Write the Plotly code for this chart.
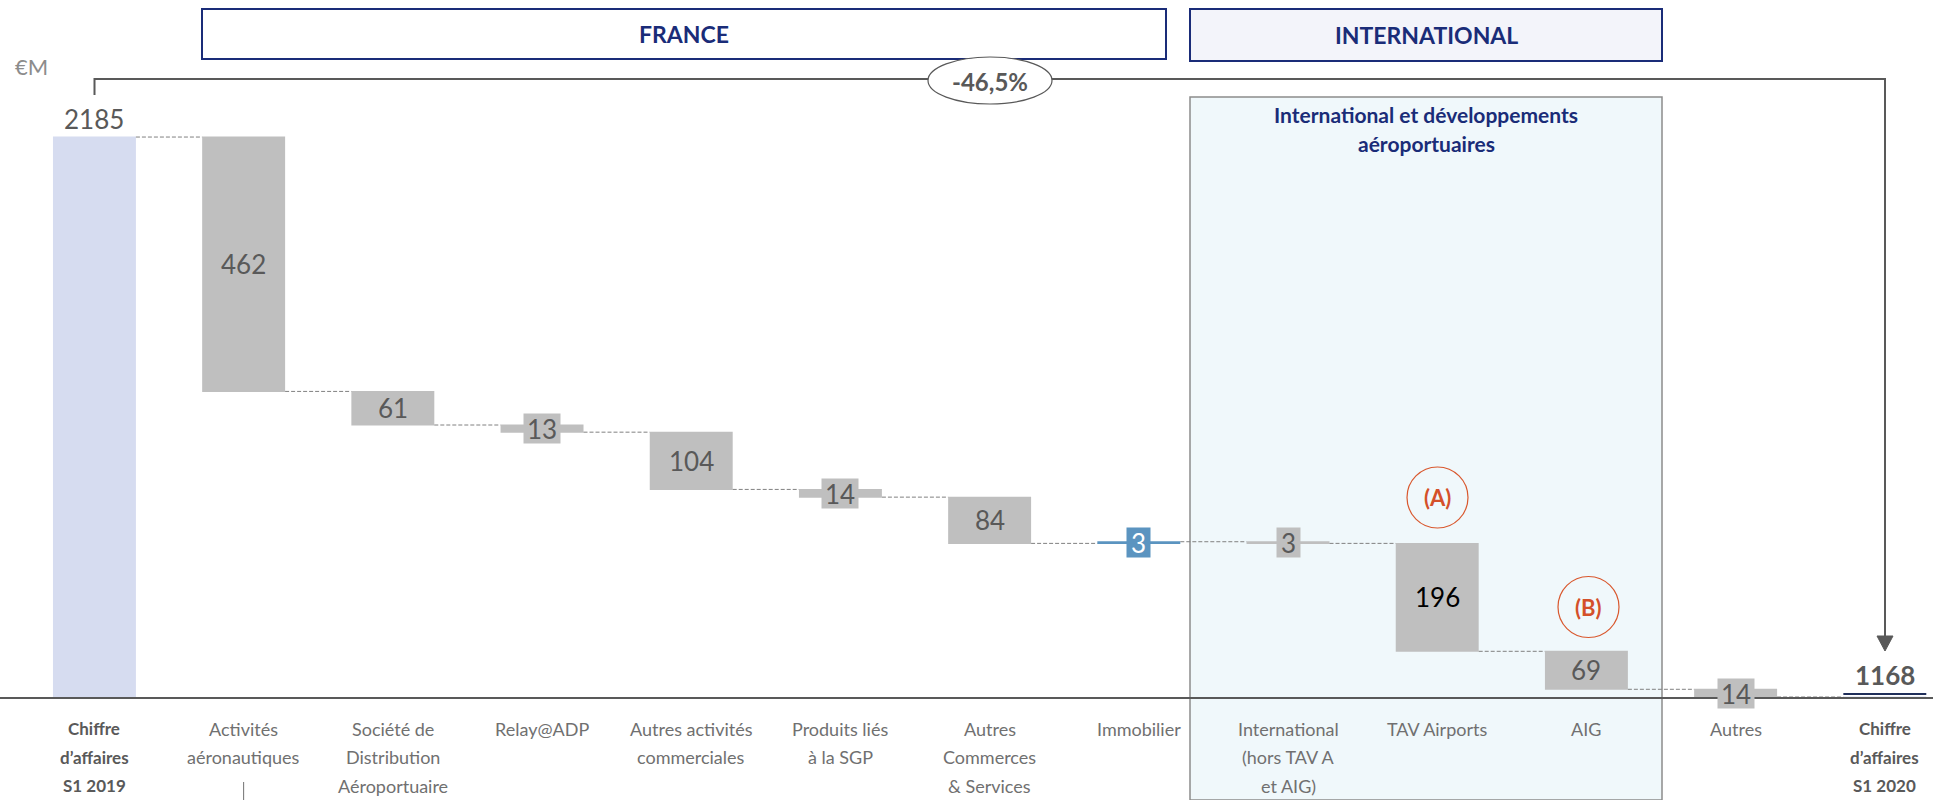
import plotly.graph_objects as go

# ---------------- data ----------------
categories = [
    "Chiffre d’affaires S1 2019", "Activités aéronautiques",
    "Société de Distribution Aéroportuaire", "Relay@ADP",
    "Autres activités commerciales", "Produits liés à la SGP",
    "Autres Commerces & Services", "Immobilier",
    "International (hors TAV A et AIG)", "TAV Airports", "AIG", "Autres",
    "Chiffre d’affaires S1 2020",
]
tick_lines = [
    ["Chiffre", "d’affaires", "S1 2019"],
    ["Activités", "aéronautiques"],
    ["Société de", "Distribution", "Aéroportuaire"],
    ["Relay@ADP"],
    ["Autres activités", "commerciales"],
    ["Produits liés", "à la SGP"],
    ["Autres", "Commerces", "& Services"],
    ["Immobilier"],
    ["International", "(hors TAV A", "et AIG)"],
    ["TAV Airports"],
    ["AIG"],
    ["Autres"],
    ["Chiffre", "d’affaires", "S1 2020"],
]
values = [2185, -462, -61, -13, -104, -14, -84, 3, -3, -196, -69, -14, 0]
measures = ["absolute"] + ["relative"] * 11 + ["total"]
bold_ticks = [0, 12]
change_label = "-46,5%"
section_france = "FRANCE"
section_intl = "INTERNATIONAL"
intl_header = ["International et développements", "aéroportuaires"]
markers = {9: "(A)", 10: "(B)"}

# ---------------- geometry helpers ----------------
W, H = 1933, 800
MB = 103                      # bottom margin -> baseline at 697 px
PH = H - MB
def px(x):
    return x / W
def py(y):
    return (PH - y) / PH

FONT = "Lato, 'Open Sans', sans-serif"
GREY_TXT = "#595959"
NAVY = "#1A2C78"

# cumulative levels
levels = []
run = 0
for v, m in zip(values, measures):
    if m == "absolute":
        start, run = 0, v
    elif m == "total":
        start = 0
    else:
        start, run = run, run + v
    levels.append((start, run))
end_total = levels[-1][1]

y_low = end_total
y_high = y_low + PH / 0.5506
n = len(categories)

fig = go.Figure(go.Waterfall(
    x=list(range(n)), y=values, measure=measures, width=0.556,
    decreasing=dict(marker=dict(color="#BFBFBF", line=dict(width=0))),
    increasing=dict(marker=dict(color="#5B94C0", line=dict(width=0))),
    totals=dict(marker=dict(color="#D6DCF0", line=dict(width=0))),
    connector=dict(line=dict(color="#808080", width=1, dash="4px,2px")),
    textposition="none", hoverinfo="skip",
))

ann = []
shapes = []

def A(**kw):
    kw.setdefault("showarrow", False)
    kw.setdefault("xanchor", "center")
    kw.setdefault("yanchor", "middle")
    ann.append(kw)

# value labels
for i, (v, m) in enumerate(zip(values, measures)):
    if m != "relative":
        continue
    s, e = levels[i]
    mid = (s + e) / 2
    txt = str(abs(v))
    small = abs(v) < 20
    if small:
        if v > 0:
            bg, col = "#5B94C0", "white"
        else:
            bg, col = "#BFBFBF", GREY_TXT
        A(x=i, y=mid, xref="x", yref="y", text=txt,
          font=dict(family=FONT, size=26, color=col),
          bgcolor=bg, width=10 + 13 * len(txt), height=29, borderpad=0)
    else:
        col = "black" if i == 9 else GREY_TXT
        A(x=i, y=mid, xref="x", yref="y", text=txt,
          font=dict(family=FONT, size=26, color=col))

# start / end totals
A(x=0, y=values[0], xref="x", yref="y", yshift=18, text=str(values[0]),
  font=dict(family=FONT, size=26, color=GREY_TXT))
A(x=n - 1, y=end_total, xref="x", yref="y", yshift=22, text=f"<b>{end_total}</b>",
  font=dict(family=FONT, size=26, color=GREY_TXT))

# category labels
for i, lines in enumerate(tick_lines):
    for j, line in enumerate(lines):
        b = i in bold_ticks
        A(x=i, xref="x", y=py(728.6 + 28.5 * j), yref="paper",
          text=f"<b>{line}</b>" if b else line,
          font=dict(family=FONT, size=17 if b else 18,
                    color=GREY_TXT if b else "#707070"))

# International shaded region
shapes.append(dict(type="rect", xref="paper", yref="paper", x0=px(1190), x1=px(1662),
                   y0=py(800), y1=py(97), fillcolor="#F0F8FB",
                   line=dict(color="#8C8C8C", width=1.5), layer="below"))
# section header boxes
shapes.append(dict(type="rect", xref="paper", yref="paper", x0=px(202), x1=px(1166),
                   y0=py(59), y1=py(9), fillcolor="white", line=dict(color=NAVY, width=2)))
shapes.append(dict(type="rect", xref="paper", yref="paper", x0=px(1190), x1=px(1662),
                   y0=py(61), y1=py(9), fillcolor="#F3F4FA", line=dict(color=NAVY, width=2)))
# bracket with arrow
path = (f"M {px(94.5)},{py(95)} L {px(94.5)},{py(79)} L {px(1885)},{py(79)} "
        f"L {px(1885)},{py(637)}")
shapes.append(dict(type="path", xref="paper", yref="paper", path=path,
                   line=dict(color=GREY_TXT, width=2)))
tri = (f"M {px(1877)},{py(636)} L {px(1893)},{py(636)} L {px(1885)},{py(651)} Z")
shapes.append(dict(type="path", xref="paper", yref="paper", path=tri,
                   fillcolor=GREY_TXT, line=dict(color=GREY_TXT, width=1)))
# ellipse for change
shapes.append(dict(type="circle", xref="paper", yref="paper", x0=px(928), x1=px(1052),
                   y0=py(104), y1=py(57), fillcolor="white",
                   line=dict(color=GREY_TXT, width=1.2)))
# (A) / (B) circles
circ = {9: (1437.5, 497.5), 10: (1588.5, 607)}
for k, (cx, cy) in circ.items():
    shapes.append(dict(type="circle", xref="paper", yref="paper",
                       x0=px(cx - 30.5), x1=px(cx + 30.5), y0=py(cy + 30.5), y1=py(cy - 30.5),
                       line=dict(color="#D9582E", width=1.2)))
    A(x=px(cx), y=py(cy), xref="paper", yref="paper", text=f"<b>{markers[k]}</b>",
      font=dict(family=FONT, size=22, color="#D4502A"))
# underline of final total
shapes.append(dict(type="line", xref="x", yref="paper", x0=n - 1 - 0.278, x1=n - 1 + 0.278,
                   y0=py(694), y1=py(694), line=dict(color="#1F2E5A", width=2)))
# small tick under "aéronautiques"
shapes.append(dict(type="line", xref="x", yref="paper", x0=1, x1=1,
                   y0=py(782), y1=py(800), line=dict(color="#707070", width=1)))

# texts
A(x=px(31), y=py(66), xref="paper", yref="paper", text="€M",
  font=dict(family=FONT, size=22, color="#8C8C8C"))
A(x=px(990), y=py(81), xref="paper", yref="paper", text=f"<b>{change_label}</b>",
  font=dict(family=FONT, size=24, color=GREY_TXT))
A(x=px(684), y=py(34), xref="paper", yref="paper", text=f"<b>{section_france}</b>",
  font=dict(family=FONT, size=23, color=NAVY))
A(x=px(1426), y=py(35), xref="paper", yref="paper", text=f"<b>{section_intl}</b>",
  font=dict(family=FONT, size=23, color=NAVY))
for j, line in enumerate(intl_header):
    A(x=px(1426), y=py(114 + 29 * j), xref="paper", yref="paper",
      text=f"<b>{line}</b>", font=dict(family=FONT, size=21, color=NAVY))

fig.update_layout(
    width=W, height=H, margin=dict(l=0, r=0, t=0, b=MB, pad=0),
    paper_bgcolor="white", plot_bgcolor="rgba(0,0,0,0)",
    showlegend=False, annotations=ann, shapes=shapes,
    xaxis=dict(range=[-0.633, 12.323], showgrid=False, zeroline=False,
               showticklabels=False, ticks="", showline=True,
               linecolor="#595959", linewidth=2, fixedrange=True),
    yaxis=dict(range=[y_low, y_high], showgrid=False, zeroline=False,
               showticklabels=False, ticks="", showline=False, fixedrange=True),
)
fig.write_html("out.html", config={"displayModeBar": False},
               post_script="document.body.style.margin='0';document.body.style.overflow='hidden';")
